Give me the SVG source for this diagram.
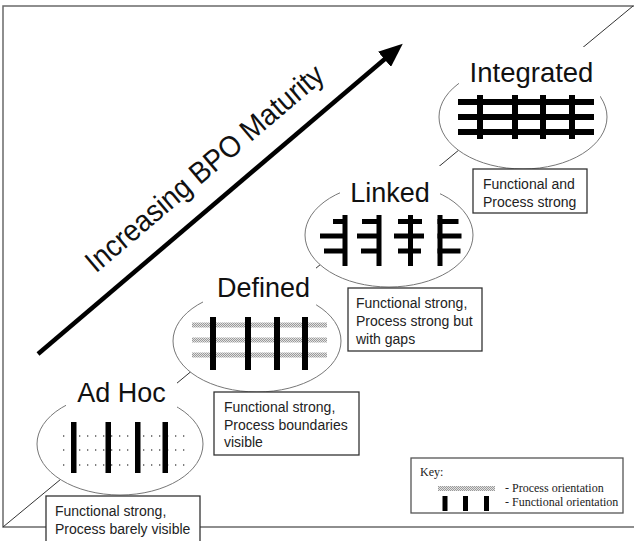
<svg xmlns="http://www.w3.org/2000/svg" width="634" height="541" viewBox="0 0 634 541">
<defs>
<style>
.frame{fill:none;stroke:#6a6a6a;stroke-width:1.5}
.diag{stroke:#333;stroke-width:1;fill:none}
.ell{fill:#fff;stroke:#777;stroke-width:1}
.mask{fill:#fff}
.title{font-family:"Liberation Sans",Arial,sans-serif;font-size:27px;fill:#111;text-anchor:middle}
.box{fill:#fff;stroke:#333;stroke-width:1.3}
.desc{font-family:"Liberation Sans",Arial,sans-serif;font-size:14px;fill:#222}
.fn{fill:#000}
.proc{fill:url(#proc)}
.dots{stroke:#555;stroke-width:1.3;stroke-dasharray:1.3 6.7;fill:none}
.key{font-family:"Liberation Serif","Times New Roman",serif;font-size:12px;fill:#222}
</style>
<pattern id="proc" width="2" height="2" patternUnits="userSpaceOnUse">
<rect width="2" height="2" fill="#e2e2e2"/>
<rect width="1" height="1" fill="#9a9a9a"/>
<rect x="1" y="1" width="1" height="1" fill="#9a9a9a"/>
</pattern>
<marker id="ah" markerUnits="userSpaceOnUse" markerWidth="24" markerHeight="20" viewBox="0 0 24 20" refX="2" refY="10" orient="auto">
<path d="M0,0 L24,10 L0,20 z" fill="#000"/>
</marker>
</defs>
<rect width="634" height="541" fill="#fff"/>
<g id="frame">
<path class="frame" d="M634,6 H3 V527 H634"/>
</g>
<g id="connectors">
<line class="diag" x1="3" y1="527" x2="633" y2="6"/>
<line x1="38" y1="354" x2="386" y2="58" stroke="#000" stroke-width="4.5" marker-end="url(#ah)"/>
</g>
<g id="maturity-label">
<text transform="translate(211,176) rotate(-40.3) scale(0.93,1)" style="font-family:'Liberation Sans',Arial,sans-serif;font-size:30px;fill:#111;text-anchor:middle">Increasing BPO Maturity</text>
</g>
<g id="adhoc">
<ellipse class="ell" cx="120" cy="444" rx="83" ry="51"/>
<rect class="mask" x="66" y="367" width="111" height="49"/>
<text class="title" x="121.5" y="402">Ad Hoc</text>
<path class="dots" d="M63,436 H189 M63,450 H189 M63,465 H189"/>
<rect class="fn" x="71" y="422" width="5.5" height="51"/>
<rect class="fn" x="105.5" y="422" width="5.5" height="51"/>
<rect class="fn" x="135" y="422" width="5.5" height="51"/>
<rect class="fn" x="162.5" y="422" width="5.5" height="51"/>
</g>
<g id="defined">
<ellipse class="ell" cx="257" cy="341" rx="84" ry="51"/>
<rect class="mask" x="203" y="262" width="113" height="49"/>
<text class="title" x="263.5" y="297">Defined</text>
<rect class="proc" x="192" y="322.5" width="135" height="5"/>
<rect class="proc" x="192" y="337.5" width="135" height="5"/>
<rect class="proc" x="192" y="352.5" width="135" height="5"/>
<rect class="fn" x="210" y="317" width="6" height="53"/>
<rect class="fn" x="245" y="317" width="6" height="53"/>
<rect class="fn" x="274" y="317" width="6" height="53"/>
<rect class="fn" x="302" y="317" width="6" height="53"/>
</g>
<g id="linked">
<ellipse class="ell" cx="389" cy="235" rx="84" ry="52"/>
<rect class="mask" x="340" y="166" width="100" height="48"/>
<text class="title" x="390" y="202">Linked</text>
<rect class="fn" x="342.5" y="215" width="5" height="51"/>
<rect class="fn" x="333" y="219" width="14" height="5"/>
<rect class="fn" x="320" y="233.5" width="27" height="5"/>
<rect class="fn" x="324" y="248.5" width="23" height="5"/>
<rect class="fn" x="376.5" y="215" width="5" height="51"/>
<rect class="fn" x="362" y="219" width="19" height="5"/>
<rect class="fn" x="357" y="233.5" width="24" height="5"/>
<rect class="fn" x="361" y="248.5" width="20" height="5"/>
<rect class="fn" x="408" y="215" width="5" height="51"/>
<rect class="fn" x="398" y="219" width="24" height="5"/>
<rect class="fn" x="394" y="233.5" width="30" height="5"/>
<rect class="fn" x="398" y="248.5" width="23" height="5"/>
<rect class="fn" x="437.5" y="215" width="5" height="51"/>
<rect class="fn" x="437.5" y="219" width="21" height="5"/>
<rect class="fn" x="437.5" y="233.5" width="24" height="5"/>
<rect class="fn" x="437.5" y="248.5" width="23" height="5"/>
</g>
<g id="integrated">
<ellipse class="ell" cx="523" cy="117" rx="84" ry="52"/>
<rect class="mask" x="459" y="47" width="141" height="50"/>
<text class="title" x="531.5" y="82" style="font-size:27.5px">Integrated</text>
<rect class="fn" x="458" y="99" width="136" height="6"/>
<rect class="fn" x="458" y="114" width="136" height="6"/>
<rect class="fn" x="458" y="129" width="136" height="6"/>
<rect class="fn" x="477" y="95" width="6" height="44"/>
<rect class="fn" x="512" y="95" width="6" height="44"/>
<rect class="fn" x="540" y="95" width="6" height="44"/>
<rect class="fn" x="569" y="95" width="6" height="44"/>
</g>
<g id="adhoc-desc">
<rect class="box" x="46" y="496" width="154" height="52"/>
<text class="desc" x="55" y="516">Functional strong,</text>
<text class="desc" x="55" y="534">Process barely visible</text>
</g>
<g id="defined-desc">
<rect class="box" x="214" y="392" width="145" height="63"/>
<text class="desc" x="224" y="412">Functional strong,</text>
<text class="desc" x="224" y="429.5">Process boundaries</text>
<text class="desc" x="224" y="447">visible</text>
</g>
<g id="linked-desc">
<rect class="box" x="348" y="288" width="134" height="63"/>
<text class="desc" x="356" y="308">Functional strong,</text>
<text class="desc" x="356" y="326">Process strong but</text>
<text class="desc" x="356" y="344">with gaps</text>
</g>
<g id="integrated-desc">
<rect class="box" x="473" y="169" width="114" height="44"/>
<text class="desc" x="483" y="189">Functional and</text>
<text class="desc" x="483" y="207">Process strong</text>
</g>
<g id="key">
<rect x="411" y="458" width="212" height="55" fill="#fff" stroke="#555" stroke-width="1.3"/>
<text class="key" x="420" y="476">Key:</text>
<rect class="proc" x="438" y="486" width="57" height="5"/>
<text class="key" x="505" y="492">- Process orientation</text>
<rect class="fn" x="442.5" y="496" width="5" height="15"/>
<rect class="fn" x="463" y="496" width="5" height="15"/>
<rect class="fn" x="484" y="496" width="5" height="15"/>
<text class="key" x="505" y="506">- Functional orientation</text>
</g>
</svg>
